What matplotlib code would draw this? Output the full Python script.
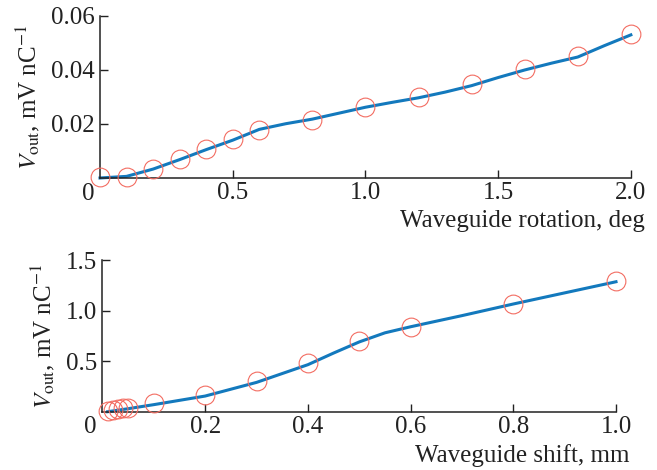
import numpy as np
import matplotlib
matplotlib.use("Agg")
import matplotlib.pyplot as plt

plt.rcParams['font.family'] = ['Liberation Serif', 'DejaVu Serif']
plt.rcParams['mathtext.fontset'] = 'stix'
plt.rcParams['font.size'] = 18

# rotation scan: measured points and fitted curve
rot_pts_x = [0.0, 0.1, 0.2, 0.3, 0.4, 0.5, 0.6, 0.8, 1.0, 1.2, 1.4, 1.6, 1.8, 2.0]
rot_pts_y = [0.0003, 0.0005, 0.0035, 0.0069, 0.0107, 0.0144, 0.0179, 0.0215,
             0.0264, 0.0299, 0.0347, 0.0404, 0.0452, 0.0533]
rot_line_x = [0.0, 0.1, 0.2, 0.3, 0.4, 0.5, 0.6, 0.7, 0.8, 0.9, 1.0, 1.1, 1.2,
              1.3, 1.4, 1.5, 1.6, 1.7, 1.8, 1.9, 2.0]
rot_line_y = [0.0, 0.0006, 0.0033, 0.0068, 0.0105, 0.0140, 0.0180, 0.0201,
              0.0218, 0.0240, 0.0262, 0.0280, 0.0297, 0.0318, 0.0342, 0.0372,
              0.0400, 0.0425, 0.0448, 0.0490, 0.0530]

# shift scan
sh_pts_x = [0.01, 0.02, 0.03, 0.04, 0.05, 0.1, 0.2, 0.3, 0.4, 0.5, 0.6, 0.8, 1.0]
sh_pts_y = [0.01, 0.015, 0.03, 0.04, 0.035, 0.083, 0.165, 0.30, 0.48, 0.70,
            0.84, 1.065, 1.294]
sh_line_x = [0.01, 0.05, 0.1, 0.2, 0.3, 0.4, 0.45, 0.5, 0.55, 0.6, 0.7, 0.8,
             0.9, 1.0]
sh_line_y = [0.0, 0.03, 0.07, 0.155, 0.29, 0.465, 0.58, 0.69, 0.78, 0.84,
             0.95, 1.065, 1.175, 1.285]

blue = '#1379bd'
red = '#f36d62'

fig = plt.figure(figsize=(6.57, 4.70), dpi=100)
ax1 = fig.add_axes([0.1522, 0.6213, 0.808, 0.3447])
ax2 = fig.add_axes([0.156, 0.124, 0.7816, 0.3228])


def style(ax):
    for s in ('top', 'right'):
        ax.spines[s].set_visible(False)
    for s in ('left', 'bottom'):
        ax.spines[s].set_linewidth(1.1)
        ax.spines[s].set_color('#222222')
    ax.tick_params(direction='in', length=6, width=1.0, color='#222222',
                   labelsize=18, labelcolor='#222222')
    ax.tick_params(axis='x', pad=3)
    ax.tick_params(axis='y', pad=4)


for ax, lx, ly, px, py in [(ax1, rot_line_x, rot_line_y, rot_pts_x, rot_pts_y),
                           (ax2, sh_line_x, sh_line_y, sh_pts_x, sh_pts_y)]:
    style(ax)
    ax.plot(lx, ly, color=blue, lw=2.2, zorder=2, clip_on=False)
    ax.plot(px, py, 'o', ms=13.5, mfc='none', mec=red, mew=0.8, zorder=3,
            clip_on=False)
    ax.set_ylabel(r'$V_{\mathrm{out}}$, mV nC$^{-1}$', fontsize=18,
                  color='#222222', labelpad=6)
    ax.text(-0.023, -0.03, '0', transform=ax.transAxes, ha='center', va='top',
            fontsize=18, color='#222222')

ax1.set_xlim(0, 2.0)
ax1.set_ylim(0, 0.06)
ax1.set_xticks([0.5, 1.0, 1.5, 2.0])
ax1.set_xticklabels(['0.5', '1.0', '1.5', '2.0'])
ax1.set_yticks([0.02, 0.04, 0.06])
ax1.set_yticklabels(['0.02', '0.04', '0.06'])
ax1.text(1.026, -0.30, 'Waveguide rotation, deg', transform=ax1.transAxes,
         ha='right', va='baseline', fontsize=18, color='#222222')

ax2.set_xlim(0, 1.0)
ax2.set_ylim(0, 1.5)
ax2.set_xticks([0.2, 0.4, 0.6, 0.8, 1.0])
ax2.set_xticklabels(['0.2', '0.4', '0.6', '0.8', '1.0'])
ax2.set_yticks([0.5, 1.0, 1.5])
ax2.set_yticklabels(['0.5', '1.0', '1.5'])
ax2.text(1.027, -0.33, 'Waveguide shift, mm', transform=ax2.transAxes,
         ha='right', va='baseline', fontsize=18, color='#222222')

fig.savefig('out.png', dpi=100)
